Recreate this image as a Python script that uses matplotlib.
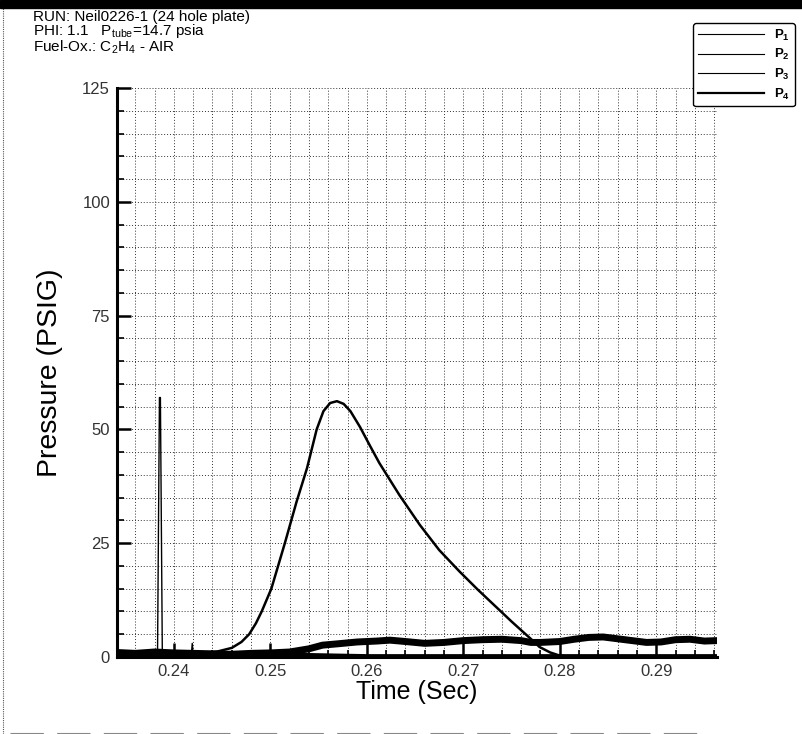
"""
Pressure trace, run Neil0226-1 (24 hole plate) - recreated from a scanned plot.
"""
import matplotlib
matplotlib.use("Agg")
import matplotlib.pyplot as plt
from matplotlib.lines import Line2D
from matplotlib.patches import Rectangle
from matplotlib.ticker import MultipleLocator, FormatStrFormatter

plt.rcParams["font.family"] = ["Liberation Sans", "DejaVu Sans"]
plt.rcParams["mathtext.fontset"] = "custom"
plt.rcParams["mathtext.rm"] = "Liberation Sans"
plt.rcParams["mathtext.bf"] = "Liberation Sans:bold"
plt.rcParams["mathtext.default"] = "regular"

# ── Data ───────────────────────────────────────────────────────────────────────
# P1: main pressure pulse
p1_t = [0.2340, 0.2400, 0.2430, 0.2445, 0.2460, 0.2470, 0.2478, 0.2485, 0.2491,
        0.2501, 0.2515, 0.2527, 0.2538, 0.2548, 0.2555, 0.2562, 0.2569, 0.2576,
        0.2583, 0.2593, 0.2603, 0.2613, 0.2634, 0.2655, 0.2675, 0.2696, 0.2715,
        0.2735, 0.2750, 0.2762, 0.2772, 0.2779, 0.2790, 0.2800, 0.2808]
p1_p = [0.4, 0.5, 0.8, 1.2, 2.0, 3.3, 5.0, 7.4, 10.0,
        15.0, 25.0, 34.0, 41.5, 50.0, 54.0, 55.8, 56.2, 55.6,
        54.0, 50.5, 46.5, 42.6, 35.5, 29.0, 23.5, 18.8, 14.8,
        10.8, 7.8, 5.5, 3.6, 2.2, 1.0, 0.3, 0.1]

# P2: slowly rising noisy trace
p2_t = [0.2340, 0.2360, 0.2380, 0.2400, 0.2420, 0.2440, 0.2460, 0.2480, 0.2500,
        0.2520, 0.2540, 0.2554, 0.2570, 0.2590, 0.2610, 0.2624, 0.2640, 0.2660,
        0.2680, 0.2700, 0.2720, 0.2740, 0.2760, 0.2770, 0.2780, 0.2800, 0.2815,
        0.2830, 0.2845, 0.2860, 0.2875, 0.2890, 0.2905, 0.2920, 0.2935, 0.2950,
        0.2963]
p2_p = [1.0, 0.8, 1.1, 0.9, 0.8, 0.7, 0.6, 0.8, 0.9,
        1.1, 1.8, 2.6, 2.9, 3.3, 3.5, 3.7, 3.4, 3.0,
        3.2, 3.6, 3.8, 3.9, 3.6, 3.2, 3.2, 3.4, 3.9,
        4.3, 4.4, 4.0, 3.6, 3.2, 3.3, 3.8, 3.9, 3.5,
        3.6]

# P3: near-zero trace with the early spike
p3_t = [0.2340, 0.2383, 0.2385, 0.2386, 0.2388, 0.2418, 0.2419, 0.2420,
        0.2500, 0.2600, 0.2700, 0.2800, 0.2900, 0.2963]
p3_p = [0.2, 0.2, 57.0, 57.0, 0.2, 0.3, 3.0, 0.3,
        0.2, 0.2, 0.2, 0.2, 0.2, 0.2]

# P4: baseline
p4_t = [0.2340, 0.2400, 0.2450, 0.2500, 0.2600, 0.2700, 0.2800, 0.2900, 0.2963]
p4_p = [0.8, 0.7, 0.8, 0.5, 0.1, 0.1, 0.1, 0.1, 0.1]

series_labels = ["P$_1$", "P$_2$", "P$_3$", "P$_4$"]

x_lim = (0.2341, 0.2963)
y_lim = (0, 125)

header_lines = [
    "RUN: Neil0226-1 (24 hole plate)",
    r"PHI: 1.1   P$_{tube}$=14.7 psia",
    "Fuel-Ox.: C$_2$H$_4$ - AIR",
]

# ── Figure ─────────────────────────────────────────────────────────────────────
fig = plt.figure(figsize=(8.02, 7.34), dpi=100)
W, H = 802, 734

def px_axes(x0, y0, x1, y1):
    """Axes rectangle from pixel coords (top-left origin)."""
    return [x0 / W, 1 - y1 / H, (x1 - x0) / W, (y1 - y0) / H]

ax = fig.add_axes(px_axes(117, 88, 717, 657))

ax.plot(p4_t, p4_p, color="black", lw=3.5, zorder=3)
ax.plot(p3_t, p3_p, color="black", lw=1.0, zorder=3)
ax.plot(p2_t, p2_p, color="black", lw=5.0, zorder=3)
ax.plot(p1_t, p1_p, color="black", lw=1.8, zorder=4)

ax.set_xlim(*x_lim)
ax.set_ylim(*y_lim)

ax.xaxis.set_major_locator(MultipleLocator(0.01))
ax.xaxis.set_minor_locator(MultipleLocator(0.002))
ax.xaxis.set_major_formatter(FormatStrFormatter("%.2f"))
ax.yaxis.set_major_locator(MultipleLocator(25))
ax.yaxis.set_minor_locator(MultipleLocator(5))

ax.grid(which="both", color="#333333", lw=0.7, linestyle=(0, (1, 2)), zorder=1)
ax.set_axisbelow(True)

for side in ("top", "right"):
    ax.spines[side].set_visible(False)
for side in ("left", "bottom"):
    ax.spines[side].set_linewidth(2.2)

ax.tick_params(which="major", direction="in", length=10, width=1.8,
               labelsize=12, colors="black", labelcolor="#333333", pad=5)
ax.tick_params(which="minor", direction="in", length=5, width=1.2)

ax.set_xlabel("Time (Sec)", fontsize=18, labelpad=1)
ax.set_ylabel("Pressure (PSIG)", fontsize=20.5, labelpad=14)

# header text
fig.text(33 / W, 1 - 10 / H, "\n".join(header_lines), fontsize=11,
         va="top", ha="left", linespacing=0.85)

# legend box
handles = [Line2D([0], [0], color="black", lw=w) for w in (0.8, 0.8, 0.8, 1.6)]
fig.legend(handles, series_labels, loc="upper right",
           bbox_to_anchor=(795 / W, 1 - 23 / H), borderaxespad=0,
           handlelength=5.0, handletextpad=0.8, labelspacing=0.35,
           borderpad=0.35, frameon=True, fancybox=True, edgecolor="black",
           framealpha=1, prop={"weight": "bold", "size": 9.5})

# scan decorations: window title bar, left edge, bottom edge
fig.add_artist(Rectangle((0, 1 - 8 / H), 1, 8 / H, transform=fig.transFigure,
                         color="black", zorder=10))
fig.add_artist(Line2D([3 / W, 3 / W], [0, 1 - 8 / H], transform=fig.transFigure,
                      color="#555555", lw=0.8, linestyle=(0, (1, 1))))
fig.add_artist(Line2D([10 / W, 700 / W], [1.5 / H, 1.5 / H], transform=fig.transFigure,
                      color="#888888", lw=0.8, linestyle=(0, (30, 12))))

fig.savefig("out.png", dpi=100, facecolor="white")
